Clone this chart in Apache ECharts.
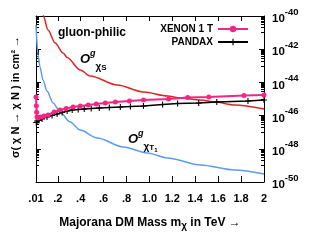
<!DOCTYPE html>
<html><head><meta charset="utf-8">
<script src="https://cdn.jsdelivr.net/npm/echarts@6/dist/echarts.min.js"></script>
<style>html,body{margin:0;padding:0;background:#fff}#c{width:334px;height:250px}</style>
</head><body><div id="c"></div>
<script>
// ---- tick labels ----
const xTickValues = [0.01, 0.2, 0.4, 0.6, 0.8, 1.0, 1.2, 1.4, 1.6, 1.8, 2];
const xTickLabels = ['.01', '.2', '.4', '.6', '.8', '1.0', '1.2', '1.4', '1.6', '1.8', '2'];
const yLabelExponents = [-50, -48, -46, -44, -42, -40];   // labels read 10^-50 ... 10^-40

// ---- series data (mass in TeV, cross-section in cm^2) ----
const xenonMass  = [0.01, 0.013, 0.016, 0.019, 0.028, 0.054, 0.080, 0.115, 0.168, 0.220, 0.273, 0.334, 0.396, 0.466, 0.536, 0.615, 0.703, 0.825, 0.948, 1.167, 1.334, 1.518, 1.825, 2.0];
const xenonSigma = [1.32e-45, 3.98e-46, 1.58e-46, 8.32e-47, 7.24e-47, 8.32e-47, 9.55e-47, 1.10e-46, 1.66e-46, 2.19e-46, 2.69e-46, 3.31e-46, 3.80e-46, 4.37e-46, 5.01e-46, 5.75e-46, 6.61e-46, 7.59e-46, 8.71e-46, 1.00e-45, 1.23e-45, 1.32e-45, 1.62e-45, 1.74e-45];

const pandaxMass  = [0.012, 0.019, 0.036, 0.063, 0.106, 0.150, 0.194, 0.238, 0.282, 0.326, 0.378, 0.431, 0.492, 0.562, 0.650, 0.746, 0.834, 0.948, 1.115, 1.246, 1.430, 1.588, 1.860, 2.0];
const pandaxSigma = [3.80e-47, 4.68e-47, 5.01e-47, 6.31e-47, 8.32e-47, 1.02e-46, 1.26e-46, 1.55e-46, 1.91e-46, 2.19e-46, 2.34e-46, 2.51e-46, 2.69e-46, 2.88e-46, 3.09e-46, 3.31e-46, 3.55e-46, 3.80e-46, 4.68e-46, 5.37e-46, 5.75e-46, 6.61e-46, 7.59e-46, 8.71e-46];

const scalarMass  = [0.060, 0.071, 0.115, 0.177, 0.247, 0.282, 0.396, 0.483, 0.72, 0.948, 1.158, 1.27, 1.448, 1.57, 1.745, 2.0];
const scalarSigma = [3.16e-40, 1.15e-40, 1.45e-41, 2.34e-42, 5.89e-43, 3.16e-43, 5.62e-44, 2.45e-44, 6.92e-45, 2.63e-45, 1.51e-45, 1.15e-45, 8.71e-46, 6.61e-46, 4.37e-46, 2.51e-46];

const tensorMass  = [0.01, 0.0275, 0.045, 0.071, 0.106, 0.159, 0.22, 0.308, 0.396, 0.545, 0.773, 0.983, 1.158, 1.448, 1.745, 2.0];
const tensorSigma = [2.88e-41, 4.47e-43, 8.51e-44, 1.38e-44, 3.02e-45, 5.75e-46, 1.66e-46, 4.07e-47, 1.35e-47, 4.47e-48, 1.29e-48, 5.62e-49, 2.82e-49, 1.05e-49, 5.25e-50, 3.02e-50];

const seriesNames = ['XENON 1 T', 'PANDAX'];

// ---- helpers ----
const FF = '"Liberation Sans", Arial, sans-serif';
const zip = (a, b) => a.map((v, i) => [v, b[i]]);
// tick positions in decade (exponent) space, for the frame axes
const yMinorTicks = [];
for (let e = -50; e < -40; e += 2) for (let k = 1; k <= 9; k++) yMinorTicks.push(e + 1 + Math.log10(k));

const ctx = document.createElement('canvas').getContext('2d');
function tw(font, t) { ctx.font = font; return ctx.measureText(t).width; }
function run(pieces, x, y, anchor) {
  const total = pieces.reduce((s, p) => s + tw(p[1], p[0]), 0);
  let cx = anchor === 'center' ? x - total / 2 : x;
  return pieces.map(p => {
    const el = { type: 'text', x: cx, y: y + (p[2] || 0), silent: true,
      style: { text: p[0], font: p[1], fill: '#000', textAlign: 'left', align: 'left', textVerticalAlign: 'middle', verticalAlign: 'middle' } };
    cx += tw(p[1], p[0]);
    return el;
  });
}

const axisLineStyle = { color: '#000', width: 1 };
function xAxisDef(pos, labels, len) {
  return {
    type: 'value', min: 0.01, max: 2, position: pos,
    axisLine: { show: true, onZero: false, lineStyle: axisLineStyle },
    axisTick: { show: true, inside: true, length: len, customValues: xTickValues, lineStyle: axisLineStyle },
    axisLabel: labels ? {
      show: true, customValues: xTickValues, margin: 11, color: '#000', fontSize: 11, fontWeight: 'bold', fontFamily: FF,
      formatter: v => { const i = xTickValues.findIndex(t => Math.abs(t - v) < 1e-9); return i >= 0 ? xTickLabels[i] : ''; }
    } : { show: false },
    splitLine: { show: false }
  };
}
function yFrameDef(pos, labels, ticks, len, line) {
  return {
    type: 'value', min: -50, max: -40, position: pos,
    axisLine: { show: line, onZero: false, lineStyle: axisLineStyle },
    axisTick: { show: true, inside: true, length: len, customValues: ticks, lineStyle: axisLineStyle },
    axisLabel: labels ? {
      show: true, customValues: yLabelExponents, margin: 8,
      formatter: v => '{b|10}{s|' + Math.round(v) + '}',
      rich: {
        b: { fontSize: 11.5, fontWeight: 'bold', fontFamily: FF, color: '#000', lineHeight: 18, verticalAlign: 'bottom' },
        s: { fontSize: 9.5, fontWeight: 'bold', fontFamily: FF, color: '#000', lineHeight: 12, verticalAlign: 'top' }
      }
    } : { show: false },
    splitLine: { show: false }
  };
}

const plusPath = 'path://M-0.9,-5H0.9V-0.9H5V0.9H0.9V5H-0.9V0.9H-5V-0.9H-0.9Z';
const legendText = { color: '#000', fontSize: 10, fontWeight: 'bold', fontFamily: FF };

const B12 = 'bold 12px ' + FF;
const graphics = [].concat(
  run([['gluon-philic', B12]], 58, 33),
  run([['O', 'italic bold 13px ' + FF], ['g', 'italic bold 9px ' + FF, -5], ['χ', 'bold 10px ' + FF, 8], ['S', 'bold 8px ' + FF, 9]], 80, 59),
  run([['O', 'italic bold 13px ' + FF], ['g', 'italic bold 9px ' + FF, -5], ['χ', 'bold 10px ' + FF, 8], ['T', 'bold 8px ' + FF, 9], ['1', 'bold 6px ' + FF, 11]], 128, 139),
  run([['Majorana DM Mass m', B12], ['χ', 'bold 10px ' + FF, 3], [' in TeV →', B12]], 150, 223, 'center'),
  [{ type: 'text', x: 16, y: 97, rotation: Math.PI / 2, silent: true,
     style: { text: 'σ( χ N → χ N ) in cm² →', font: 'bold 11px ' + FF, fill: '#000', textAlign: 'center', align: 'center', textVerticalAlign: 'middle', verticalAlign: 'middle' } }]
);

const yMajor = [-50, -48, -46, -44, -42, -40];

const chart = echarts.init(document.getElementById('c'), null, { renderer: 'canvas' });
chart.setOption({
  animation: false,
  backgroundColor: '#fff',
  grid: { left: 36, right: 70, top: 16, bottom: 68, containLabel: false },
  xAxis: [xAxisDef('bottom', true, 6), xAxisDef('top', false, 5)],
  yAxis: [
    { type: 'log', logBase: 10, min: 1e-50, max: 1e-40, show: false },
    yFrameDef('right', true, yMajor, 5, true),
    yFrameDef('left', false, yMajor, 5, true),
    yFrameDef('right', false, yMinorTicks, 3, false),
    yFrameDef('left', false, yMinorTicks, 3, false)
  ],
  legend: [
    { data: [seriesNames[0]], right: 85, top: 24, padding: 0, align: 'right', itemWidth: 30, itemHeight: 8, itemGap: 0, textStyle: legendText },
    { data: [seriesNames[1]], right: 85, top: 37, padding: 0, align: 'right', itemWidth: 30, itemHeight: 8, itemGap: 0, textStyle: legendText }
  ],
  graphic: graphics,
  series: [
    { name: 'scalar', type: 'line', yAxisIndex: 0, data: zip(scalarMass, scalarSigma), symbol: 'none', smooth: 0.3, smoothMonotone: 'x',
      lineStyle: { color: '#e02424', width: 1.5 }, itemStyle: { color: '#e02424' }, z: 2 },
    { name: 'tensor', type: 'line', yAxisIndex: 0, data: zip(tensorMass, tensorSigma), symbol: 'none', smooth: 0.3, smoothMonotone: 'x',
      lineStyle: { color: '#5b9cf0', width: 1.5 }, itemStyle: { color: '#5b9cf0' }, z: 2 },
    { name: seriesNames[1], type: 'line', yAxisIndex: 0, data: zip(pandaxMass, pandaxSigma), symbol: plusPath, symbolSize: 6, showAllSymbol: true,
      lineStyle: { color: '#000', width: 1.5 }, itemStyle: { color: '#000' }, z: 3 },
    { name: seriesNames[0], type: 'line', yAxisIndex: 0, data: zip(xenonMass, xenonSigma), symbol: 'circle', symbolSize: 5, showAllSymbol: true,
      lineStyle: { color: '#f52585', width: 2 }, itemStyle: { color: '#f52585' }, z: 4 }
  ]
});
</script></body></html>
